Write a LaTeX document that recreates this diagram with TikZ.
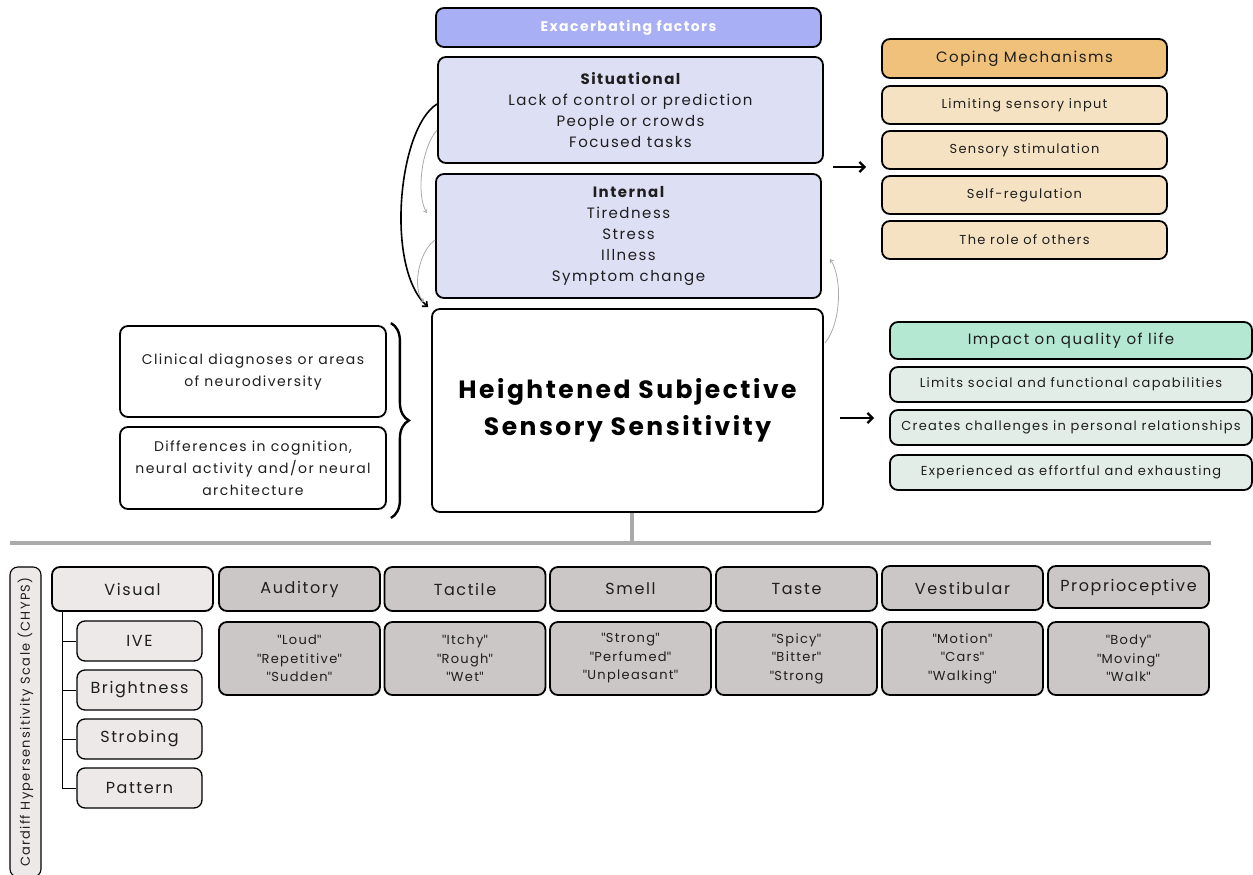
\documentclass[tikz,border=0pt]{standalone}
\usepackage{fontspec}
\setmainfont{Poppins}[LetterSpace=10]
\newfontfamily\quotefont{Lato}
\usetikzlibrary{arrows.meta,calc,decorations.pathreplacing}

\definecolor{inktext}{RGB}{30,30,30}
\definecolor{exachead}{RGB}{168,175,245}
\definecolor{exacfill}{RGB}{221,223,245}
\definecolor{copehead}{RGB}{240,193,122}
\definecolor{copefill}{RGB}{245,226,195}
\definecolor{impacthead}{RGB}{181,232,210}
\definecolor{impactfill}{RGB}{227,237,232}
\definecolor{sensefill}{RGB}{203,199,198}
\definecolor{visualfill}{RGB}{237,233,233}
\definecolor{barcolor}{RGB}{170,170,170}

\newcommand{\fsbig}{\fontsize{25}{37}\selectfont}
\newcommand{\fsmid}{\fontsize{15}{21}\selectfont}
\newcommand{\fshead}{\fontsize{16}{20}\selectfont}
\newcommand{\fsitem}{\fontsize{13}{18.5}\selectfont}
% straight quotes round a word
\newcommand{\qm}{{\quotefont\symbol{34}}}
\newcommand{\qw}[1]{\qm#1\qm}

\tikzset{
  box/.style={draw=black, line width=1.8pt, rounded corners=8pt, align=center,
    text=inktext, inner sep=2pt},
  exacbox/.style={box, fill=exacfill, minimum width=385, font=\fsmid},
  copebox/.style={box, fill=copefill, minimum width=285, minimum height=38, font=\fsitem},
  impactbox/.style={box, fill=impactfill, minimum width=362, minimum height=35, font=\fsitem},
  sensebox/.style={box, fill=sensefill, minimum width=161, minimum height=44, font=\fshead},
  wordbox/.style={box, fill=sensefill, minimum width=161, minimum height=73, font=\fsitem},
  subbox/.style={box, line width=1.3pt, fill=visualfill, minimum width=125, minimum height=40, font=\fshead},
  bigarrow/.style={line width=2.2pt, -{Straight Barb[length=5pt,width=10pt]}},
  loopline/.style={line width=1.6pt, -{Straight Barb[length=4pt,width=7pt]}},
  thinloop/.style={line width=0.8pt, draw=barcolor, -{Straight Barb[length=3pt,width=4pt]}},
  bar/.style={line width=4pt, draw=barcolor},
}

\begin{document}
\begin{tikzpicture}[x=1pt,y=1pt,yscale=-1]
\useasboundingbox (0,0) rectangle (1253,875);

% exacerbating factors column
\node[box, fill=exachead, minimum width=385, minimum height=39, text=white,
  font=\fontsize{14}{16}\selectfont\bfseries] (exac) at (628.5,27.5) {Exacerbating factors};
\node[exacbox, minimum height=106] (situ) at (630.5,110)
  {{\bfseries Situational}\\Lack of control or prediction\\People or crowds\\Focused tasks};
\node[exacbox, minimum height=124] (intern) at (628.5,236)
  {{\bfseries Internal}\\Tiredness\\Stress\\Illness\\Symptom change};

% central node
\node[box, fill=white, minimum width=391, minimum height=203, font=\fsbig\bfseries,
  text=black] (hss) at (627.5,410.5) {Heightened Subjective\\Sensory Sensitivity};

% predisposing factors
\node[box, minimum width=266, minimum height=91, font=\fontsize{14}{22}\selectfont]
  (clin) at (253,371.5) {Clinical diagnoses or areas\\of neurodiversity};
\node[box, minimum width=266, minimum height=82, font=\fontsize{14}{22}\selectfont]
  (diff) at (253,468) {Differences in cognition,\\neural activity and/or neural\\architecture};
\draw[line width=2.4pt, decorate, decoration={brace, amplitude=18pt}]
  ($(clin.north east)+(4,-2)$) -- ($(diff.south east)+(4,8)$);

% coping mechanisms
\node[box, fill=copehead, minimum width=285, minimum height=39, font=\fsmid] (cope) at (1024.5,58.5) {Coping Mechanisms};
\node[copebox] (cope1) at (1024.5,105) {Limiting sensory input};
\node[copebox] (cope2) at (1024.5,150) {Sensory stimulation};
\node[copebox] (cope3) at (1024.5,195) {Self-regulation};
\node[copebox] (cope4) at (1024.5,240) {The role of others};

% impact on quality of life
\node[box, fill=impacthead, minimum width=362, minimum height=37, font=\fsmid] (impact) at (1071,340.5) {Impact on quality of life};
\node[impactbox] (impact1) at (1071,384.5) {Limits social and functional capabilities};
\node[impactbox] (impact2) at (1071,427.5) {Creates challenges in personal relationships};
\node[impactbox] (impact3) at (1071,472.5) {Experienced as effortful and exhausting};

% arrows to the right
\coordinate (copefrom) at (833,167);
\coordinate (copeto) at (866,167);
\draw[bigarrow] (copefrom) -- (copeto);
\coordinate (impactfrom) at (840,418);
\coordinate (impactto) at (874,418);
\draw[bigarrow] (impactfrom) -- (impactto);

% feedback loops
\draw[loopline] ($(situ.west)+(0,-6)$) .. controls (398,128) and (385,268) .. ($(hss.north west)+(-3,-1)$);
\draw[thinloop] ($(situ.west)+(0,20)$) .. controls (421,148) and (416,196) .. ($(intern.north west)+(-8,40)$);
\draw[thinloop] ($(intern.west)+(0,4)$) .. controls (418,252) and (412,290) .. ($(hss.north west)+(-7,-6)$);
\draw[thinloop] ($(hss.north east)+(1,35)$) .. controls (842,322) and (842,276) .. ($(intern.south east)+(8,-40)$);

% CHYPS scale
\coordinate (split) at (632,543);
\coordinate (barleft) at (10,543);
\coordinate (barright) at (1211,543);
\draw[bar] (hss.south -| split) -- (split);
\draw[bar] (barleft) -- (barright);

\node[box, line width=1.1pt, fill=visualfill, rotate=90, minimum width=310, minimum height=31,
  inner sep=0pt, font=\fsitem] (chyps) at (25.5,722) {Cardiff Hypersensitivity Scale (CHYPS)};

\node[sensebox, fill=visualfill] (visual) at (132.5,589) {Visual};
\node[sensebox] (auditory) at (299.5,589) {Auditory};
\node[sensebox] (tactile) at (465,589) {Tactile};
\node[sensebox] (smell) at (630.5,589) {Smell};
\node[sensebox] (taste) at (796.5,589) {Taste};
\node[sensebox] (vestib) at (962.5,588) {Vestibular};
\node[sensebox, minimum height=42] (proprio) at (1128.5,587) {Proprioceptive};

\node[wordbox] (auditoryw) at (299.5,658.5) {\qw{Loud}\\\qw{Repetitive}\\\qw{Sudden}};
\node[wordbox] (tactilew) at (465,658.5) {\qw{Itchy}\\\qw{Rough}\\\qw{Wet}};
\node[wordbox] (smellw) at (630.5,658.5) {\qw{Strong}\\\qw{Perfumed}\\\qw{Unpleasant}};
\node[wordbox] (tastew) at (796.5,658.5) {\qw{Spicy}\\\qw{Bitter}\\\qm Strong};
\node[wordbox] (vestibw) at (962.5,658.5) {\qw{Motion}\\\qw{Cars}\\\qw{Walking}};
\node[wordbox] (propriow) at (1128.5,658.5) {\qw{Body}\\\qw{Moving}\\\qw{Walk}};

% visual subscales
\node[subbox] (ive) at (139.5,641) {IVE};
\node[subbox] (bright) at (139.5,690) {Brightness};
\node[subbox] (strobe) at (139.5,739) {Strobing};
\node[subbox] (pattern) at (139.5,788) {Pattern};
\coordinate (vroot) at (62,611);
\draw[line width=1pt] (vroot) |- (pattern.west);
\foreach \s in {ive,bright,strobe}
  \draw[line width=1pt] (pattern.west -| vroot) |- (\s.west);

\end{tikzpicture}
\end{document}
